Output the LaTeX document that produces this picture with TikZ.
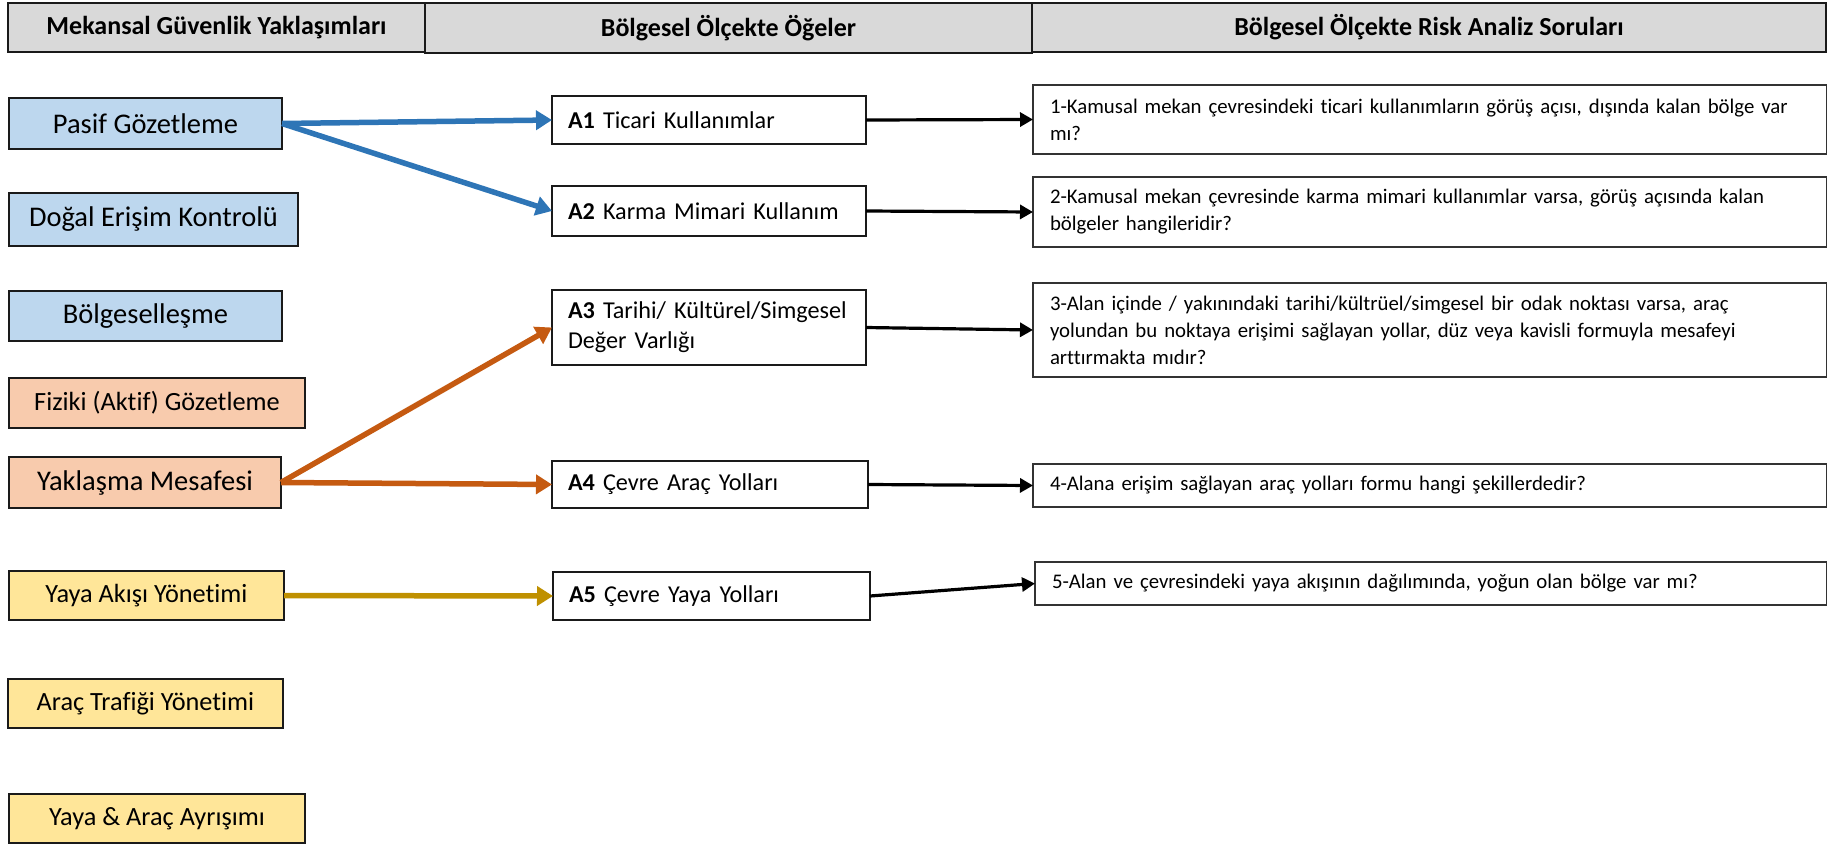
\documentclass[tikz,border=0pt]{standalone}
\usepackage{fontspec}
\setmainfont{Carlito}[Ligatures=NoCommon]
\usetikzlibrary{arrows.meta}
\definecolor{hdrgray}{HTML}{D9D9D9}
\definecolor{cblue}{HTML}{BDD7EE}
\definecolor{cpeach}{HTML}{F8CBAD}
\definecolor{cyellow}{HTML}{FFE699}
\definecolor{ablue}{HTML}{2E75B6}
\definecolor{aorange}{HTML}{C55A11}
\definecolor{agold}{HTML}{BF9000}
\definecolor{edge}{HTML}{1A1A1A}
\begin{document}
\begin{tikzpicture}[x=1pt,y=-1pt,
  base/.style={rectangle,anchor=north west,inner sep=0pt,outer sep=0pt,draw=edge},
  hdr/.style={base,fill=hdrgray,line width=2.6pt,font=\fontsize{26}{30}\selectfont\bfseries},
  lbox/.style={base,line width=2.6pt,font=\fontsize{28.5}{32}\selectfont},
  lboxs/.style={lbox,font=\fontsize{26.3}{30}\selectfont},
  mbox/.style={base,fill=white,line width=2.4pt,align=left,inner xsep=16pt,font=\fontsize{24.2}{30}\selectfont},
  qbox/.style={base,fill=white,line width=1.4pt,draw=black!80,align=left,inner xsep=17pt,font=\fontsize{20.8}{27}\selectfont},
  carrow/.style={line width=5.5pt,-{Triangle[length=16pt,width=19pt]}},
  karrow/.style={line width=3.2pt,draw=black,-{Triangle[length=13pt,width=14pt]}}
]
\useasboundingbox (0,0) rectangle (1827,843);
% headers
\node[hdr,minimum width=417pt,minimum height=49pt] (h1) at (8,3) {Mekansal Güvenlik Yaklaşımları};
\node[hdr,minimum width=607pt,minimum height=50pt] (h2) at (425,3) {Bölgesel Ölçekte Öğeler};
\node[hdr,minimum width=794pt,minimum height=49pt] (h3) at (1032,3) {Bölgesel Ölçekte Risk Analiz Soruları};
% left column
\node[lbox,fill=cblue,minimum width=273pt,minimum height=51pt] (pasif) at (9,98) {Pasif Gözetleme};
\node[lbox,fill=cblue,minimum width=289pt,minimum height=53pt] (dogal) at (9,193) {Doğal Erişim Kontrolü};
\node[lbox,fill=cblue,minimum width=273pt,minimum height=50pt] (bolge) at (9,291) {Bölgeselleşme};
\node[lboxs,fill=cpeach,minimum width=296pt,minimum height=50pt] (fiziki) at (9,378) {Fiziki (Aktif) Gözetleme};
\node[lbox,fill=cpeach,minimum width=272pt,minimum height=51pt] (yak) at (9,457) {Yaklaşma Mesafesi};
\node[lboxs,fill=cyellow,minimum width=275pt,minimum height=49pt] (yaya) at (9,571) {Yaya Akışı Yönetimi};
\node[lboxs,fill=cyellow,minimum width=275pt,minimum height=49pt] (arac) at (8,679) {Araç Trafiği Yönetimi};
\node[lboxs,fill=cyellow,minimum width=296pt,minimum height=49pt] (ayr) at (9,794) {Yaya \& Araç Ayrışımı};
% middle column
\node[mbox,text width=282pt,minimum height=48pt] (a1) at (552,96) {\textbf{A1} Ticari Kullanımlar};
\node[mbox,text width=282pt,minimum height=50pt] (a2) at (552,186) {\textbf{A2} Karma Mimari Kullanım};
\node[mbox,text width=282pt,minimum height=75pt] (a3) at (552,290) {\textbf{A3} Tarihi/ Kültürel/Simgesel\\Değer Varlığı};
\node[mbox,text width=284pt,minimum height=47pt] (a4) at (552,461) {\textbf{A4} Çevre Araç Yolları};
\node[mbox,text width=285pt,minimum height=48pt] (a5) at (553,572) {\textbf{A5} Çevre Yaya Yolları};
% right column
\node[qbox,text width=760pt,minimum height=69pt] (q1) at (1033,85) {1-Kamusal mekan çevresindeki ticari kullanımların görüş açısı, dışında kalan bölge var\\mı?};
\node[qbox,text width=760pt,minimum height=70pt] (q2) at (1033,177) {2-Kamusal mekan çevresinde karma mimari kullanımlar varsa, görüş açısında kalan\\bölgeler hangileridir?};
\node[qbox,text width=760pt,minimum height=94pt] (q3) at (1033,283) {3-Alan içinde / yakınındaki tarihi/kültrüel/simgesel bir odak noktası varsa, araç\\yolundan bu noktaya erişimi sağlayan yollar, düz veya kavisli formuyla mesafeyi\\arttırmakta mıdır?};
\node[qbox,text width=760pt,minimum height=43pt] (q4) at (1033,464) {4-Alana erişim sağlayan araç yolları formu hangi şekillerdedir?};
\node[qbox,text width=758pt,minimum height=43pt] (q5) at (1035,562) {5-Alan ve çevresindeki yaya akışının dağılımında, yoğun olan bölge var mı?};
% colored connectors
\draw[carrow,draw=ablue,fill=ablue] (pasif.east) -- (a1.west);
\draw[carrow,draw=ablue,fill=ablue] (pasif.east) -- (a2.west);
\draw[carrow,draw=aorange,fill=aorange] (yak.east) -- (a3.west);
\draw[carrow,draw=aorange,fill=aorange] (yak.east) -- (a4.west);
\draw[carrow,draw=agold,fill=agold] (yaya.east) -- (a5.west);
% black connectors
\draw[karrow] (a1.east) -- (q1.west);
\draw[karrow] (a2.east) -- (q2.west);
\draw[karrow] (a3.east) -- (q3.west);
\draw[karrow] (a4.east) -- (q4.west);
\draw[karrow] (a5.east) -- (q5.west);
\end{tikzpicture}
\end{document}
